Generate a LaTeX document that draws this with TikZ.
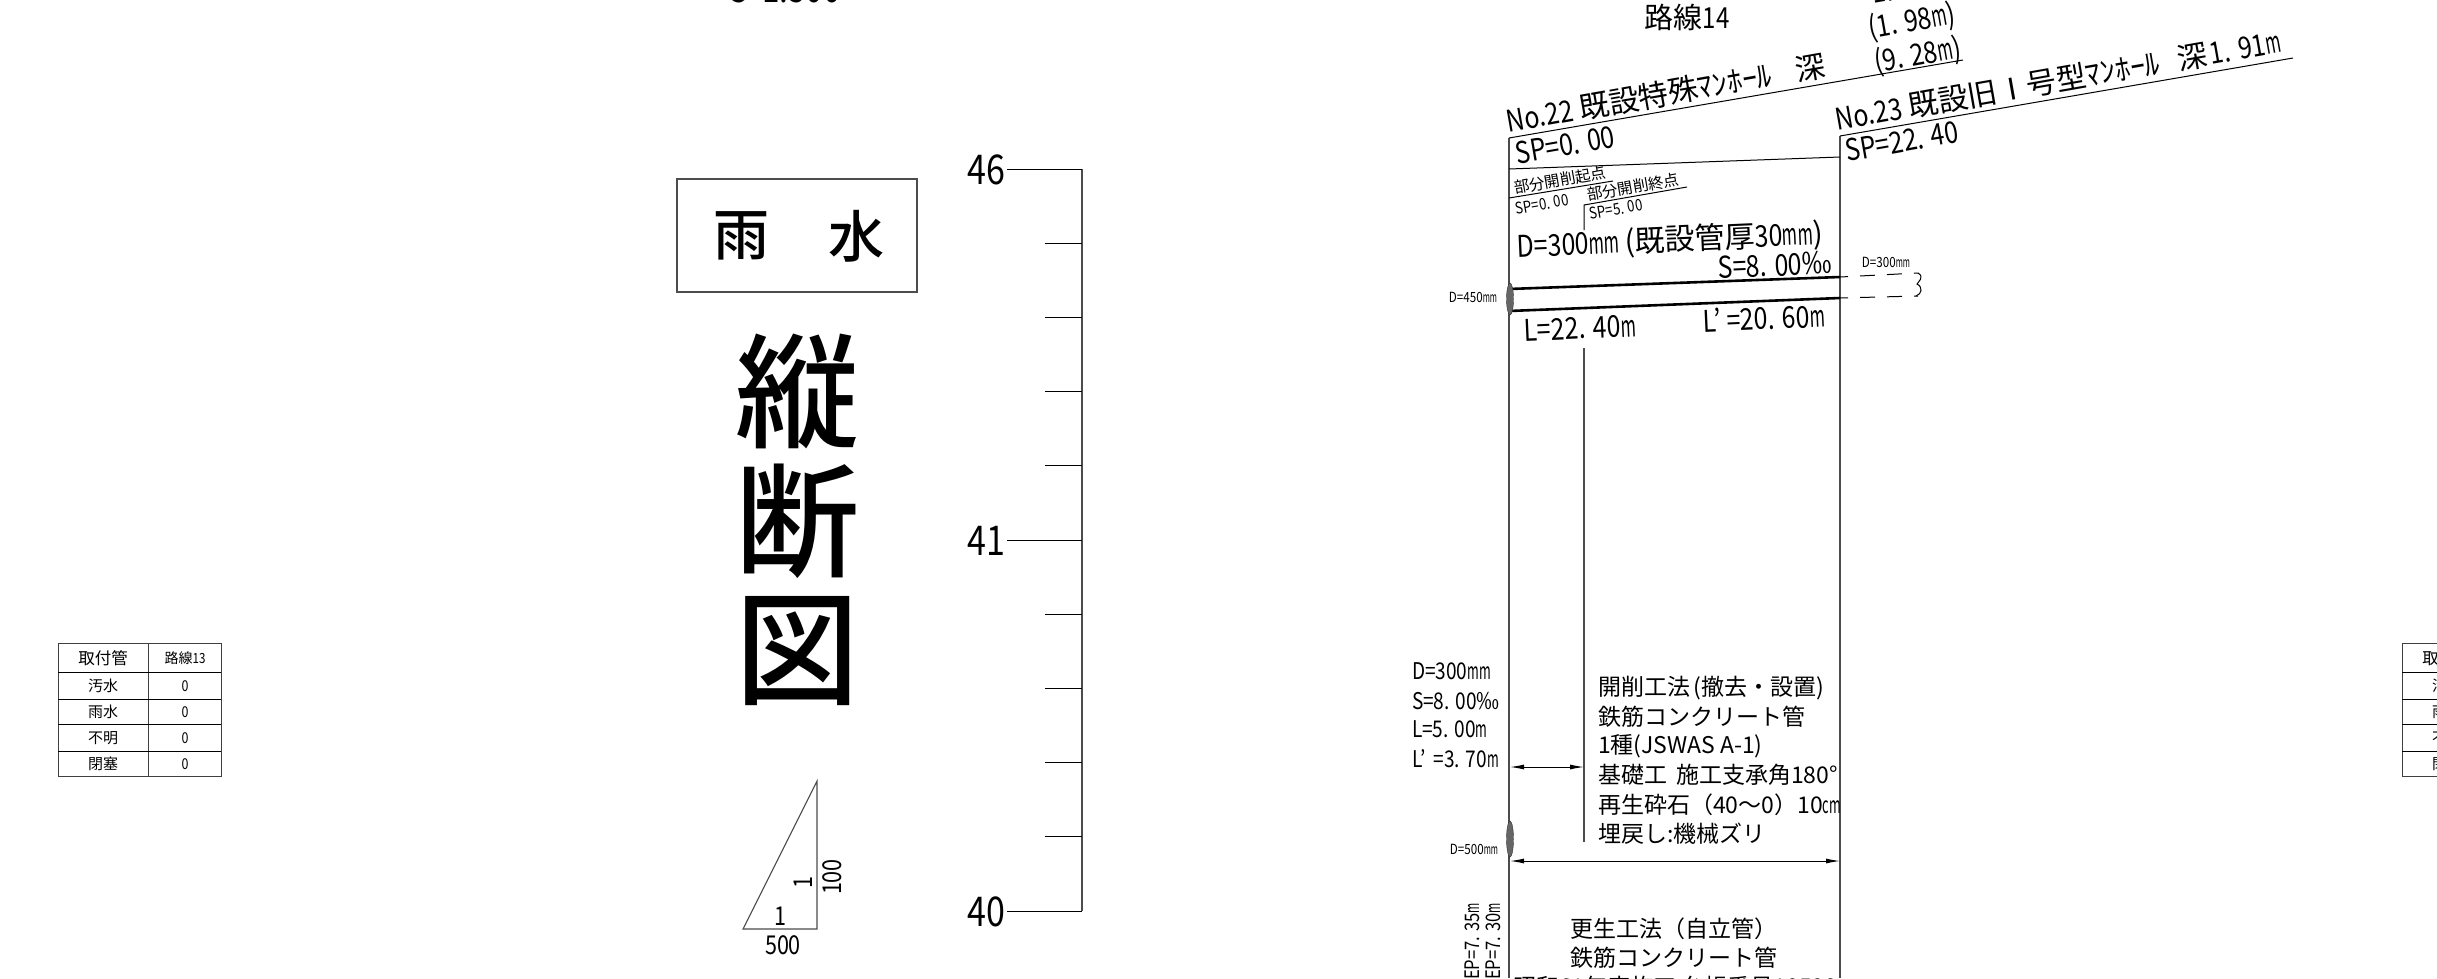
\documentclass[tikz,border=0pt]{standalone}
\usepackage{fontspec}
\setmainfont{Noto Sans CJK JP}
\newfontfamily\narrowjp[FakeStretch=0.83]{Noto Sans CJK JP}
\newfontfamily\unitjp[FakeStretch=0.55]{Noto Sans CJK JP}
\newfontfamily\titlejp{Noto Sans CJK JP Medium}
\newcommand{\nr}[1]{{\narrowjp #1}}
\newcommand{\un}[1]{{\unitjp #1}}
\newcommand{\permil}{{\normalfont ‰}}
\usetikzlibrary{arrows.meta,shapes.geometric}
\tikzset{
	every node/.style={inner sep=0pt,outer sep=0pt},
	frameline/.style={draw=black!70,line width=1.1pt},
	thinline/.style={draw=black,line width=1pt},
	pipeline/.style={draw=black,line width=2.6pt},
	tag/.style={font=\fontsize{30}{30}\selectfont},
	smalltag/.style={font=\fontsize{15.5}{15.5}\selectfont,rotate=10},
	tinytag/.style={font=\narrowjp\fontsize{14}{14}\selectfont},
	sidetag/.style={font=\narrowjp\fontsize{23}{23}\selectfont,anchor=west},
	slopetag/.style={font=\narrowjp\fontsize{26}{26}\selectfont},
	block/.style={font=\fontsize{23}{23}\selectfont,anchor=west},
	cell/.style={font=\fontsize{15}{15}\selectfont},
	gauge/.style={font=\narrowjp\fontsize{41}{41}\selectfont},
	mhole/.style={draw=black!80,fill=black!60,shape=ellipse,minimum width=7pt},
	dimline/.style={arrows={Latex[length=14pt,width=5pt]-Latex[length=14pt,width=5pt]},draw=black,line width=1pt},
	dashline/.style={draw=black,line width=1pt,dash pattern=on 15pt off 12pt,dash phase=7pt}
}
\begin{document}
\begin{tikzpicture}[x=1pt,y=-1pt]
	\useasboundingbox (0,0) rectangle (2437,978);
	\clip (0,0) rectangle (2437,978);

	% tables
	\foreach \tx/\tname in {58/13,2402/14} {
		\draw[thinline,black!75] (\tx,643) rectangle ++(163,133);
		\draw[thinline,black!75] (\tx+90,643) -- (\tx+90,776);
		\foreach \ty in {672,699,724,751} {
			\draw[thinline] (\tx,\ty) -- (\tx+163,\ty);
		}
		\node[cell,font=\fontsize{16.5}{16.5}\selectfont] at (\tx+45,658) {取付管};
		\node[cell] at (\tx+45,686) {汚水};
		\node[cell] at (\tx+45,712) {雨水};
		\node[cell] at (\tx+45,738) {不明};
		\node[cell] at (\tx+45,764) {閉塞};
		\node[cell,font=\fontsize{14}{14}\selectfont] at (\tx+127,658) {路線\nr{\tname}};
		\foreach \ty in {686,712,738,764} {
			\node[cell,font=\narrowjp\fontsize{15}{15}\selectfont] at (\tx+127,\ty) {0};
		}
	}

	% title
	\node[font=\narrowjp\fontsize{38}{38}\selectfont] (scale) at (785,-11) {S\ \ 1:500};
	\node[frameline,minimum width=240pt,minimum height=113pt] (kind) at (797,235.5) {};
	\node[font=\titlejp\fontsize{56}{56}\selectfont] (rain) at (741,236) {雨};
	\node[font=\titlejp\fontsize{56}{56}\selectfont] (water) at (856,236) {水};
	\node[font=\titlejp\fontsize{124}{124}\selectfont] (t1) at (797,391) {縦};
	\node[font=\titlejp\fontsize{124}{124}\selectfont] (t2) at (797,521) {断};
	\node[font=\titlejp\fontsize{124}{124}\selectfont] (t3) at (797,651) {図};

	% slope triangle
	\coordinate (a) at (743,929);
	\coordinate (b) at (817,929);
	\coordinate (c) at (817,781);
	\draw[frameline] (a) -- (b) -- (c) -- cycle;
	\node[slopetag] at (780,916) {1};
	\node[slopetag] at (783,945) {500};
	\node[slopetag,rotate=90] at (803,882) {1};
	\node[slopetag,rotate=90] at (832,877) {100};

	% gauge
	\draw[frameline] (1082,169) -- (1082,911);
	\foreach \gy in {243,317,391,465,614,688,762,836} {
		\draw[thinline] (1045,\gy) -- (1082,\gy);
	}
	\foreach \gy/\gtxt in {169/46,540/41,911/40} {
		\draw[thinline] (1007,\gy) -- (1082,\gy);
		\node[gauge] at (986,\gy+1) {\gtxt};
	}

	% manholes
	\coordinate (mh1) at (1509,138);
	\coordinate (mh2) at (1840,136);
	\draw[frameline] (mh1) -- (1509,978);
	\draw[frameline] (mh2) -- (1840,978);
	\draw[thinline] (mh1) -- (1963,60);
	\draw[thinline] (mh2) -- (2293,58);
	\draw[thinline] (1509,169) -- (1840,157);
	\node[tag,rotate=10,anchor=south west] at (1509,135) {\nr{No.22}\ 既設特殊ﾏﾝﾎｰﾙ\hspace{24pt}深};
	\node[tag,rotate=10,anchor=south west] at (1838,133) {\nr{No.23}\ 既設旧Ⅰ号型ﾏﾝﾎｰﾙ\hspace{18pt}深\hspace{3pt}\nr{1.\hspace{8pt}91}\un{m}};
	\node[tag,rotate=10] at (1565,145) {\nr{SP=0. 00}};
	\node[tag,rotate=10] at (1902,141) {\nr{SP=22. 40}};
	\node[tag,rotate=10] at (1918,56) {\nr{(9. 28}\un{m}\nr{)}};
	\node[tag,rotate=10] at (1912,22) {\nr{(1. 98}\un{m}\nr{)}};
	\node[tag,rotate=10,anchor=west] at (1872,-7) {\nr{1. 0}};
	\node[font=\fontsize{29}{29}\selectfont] (route) at (1687,17) {路線\nr{14}};

	% partial digging notes
	\draw[thinline] (1509,198) -- (1613,181);
	\draw[thinline] (1584,230) -- (1584,205) -- (1687,187);
	\node[smalltag] at (1560,180) {部分開削起点};
	\node[smalltag,font=\narrowjp\fontsize{16}{16}\selectfont] at (1542,204) {SP=0. 00};
	\node[smalltag] at (1633,187) {部分開削終点};
	\node[smalltag,font=\narrowjp\fontsize{16}{16}\selectfont] at (1616,209) {SP=5. 00};

	% pipe
	\draw[pipeline] (1509,289) -- (1840,277);
	\draw[pipeline] (1509,311) -- (1840,298);
	\draw[dashline] (1840,277) -- (1918,273);
	\draw[dashline] (1840,298) -- (1918,296);
	\draw[thinline] (1918,273) .. controls (1925,277) and (1918,282) .. (1917,284) .. controls (1923,287) and (1922,294) .. (1916,296);
	\node[tag,rotate=2.5] at (1670,241) {\nr{D=300}\un{mm}\,(既設管厚\nr{30}\un{mm})};
	\node[tag,rotate=2.5] at (1775,265) {\nr{S=8. 00}\permil};
	\node[tag,rotate=2.5] at (1580,328) {\nr{L=22. 40}\un{m}};
	\node[tag,rotate=2.5] at (1764,318) {\nr{L’ =20. 60}\un{m}};

	\node[mhole,minimum height=32pt] (e1) at (1510,299) {};
	\node[mhole,minimum height=36pt] (e2) at (1510,839) {};
	\node[tinytag] at (1473,297) {D=450\un{mm}};
	\node[tinytag] at (1474,849) {D=500\un{mm}};
	\node[tinytag] at (1886,262) {D=300\un{mm}};

	% section
	\draw[frameline] (1584,348) -- (1584,842);
	\draw[dimline] (1510,767) -- (1584,767);
	\draw[dimline] (1510,861) -- (1840,861);
	\node[sidetag] at (1412,671) {D=300\un{mm}};
	\node[sidetag] at (1412,701) {S=8. 00\permil};
	\node[sidetag] at (1412,729) {L=5. 00\un{m}};
	\node[sidetag] at (1412,759) {L’\,\,=3. 70\un{m}};
	\node[block] at (1598,688) {開削工法\,(撤去・設置)};
	\node[block] at (1598,717) {鉄筋コンクリート管};
	\node[block] at (1598,746) {1種(JSWAS A-1)};
	\node[block] at (1598,775) {基礎工\hspace{9pt}施工支承角180°};
	\node[block] at (1598,805) {再生砕石（40～0）10\un{cm}};
	\node[block] at (1598,834) {埋戻し:機械ズリ};
	\node[block] at (1570,929) {更生工法（自立管）};
	\node[block] at (1570,958) {鉄筋コンクリート管};
	\node[block] at (1513,987) {昭和61年度施工 台帳番号10500};
	\node[font=\narrowjp\fontsize{20}{20}\selectfont,rotate=90,anchor=east] at (1472,903) {EP=7. 35\un{m}};
	\node[font=\narrowjp\fontsize{20}{20}\selectfont,rotate=90,anchor=east] at (1493,903) {EP=7. 30\un{m}};
\end{tikzpicture}
\end{document}
